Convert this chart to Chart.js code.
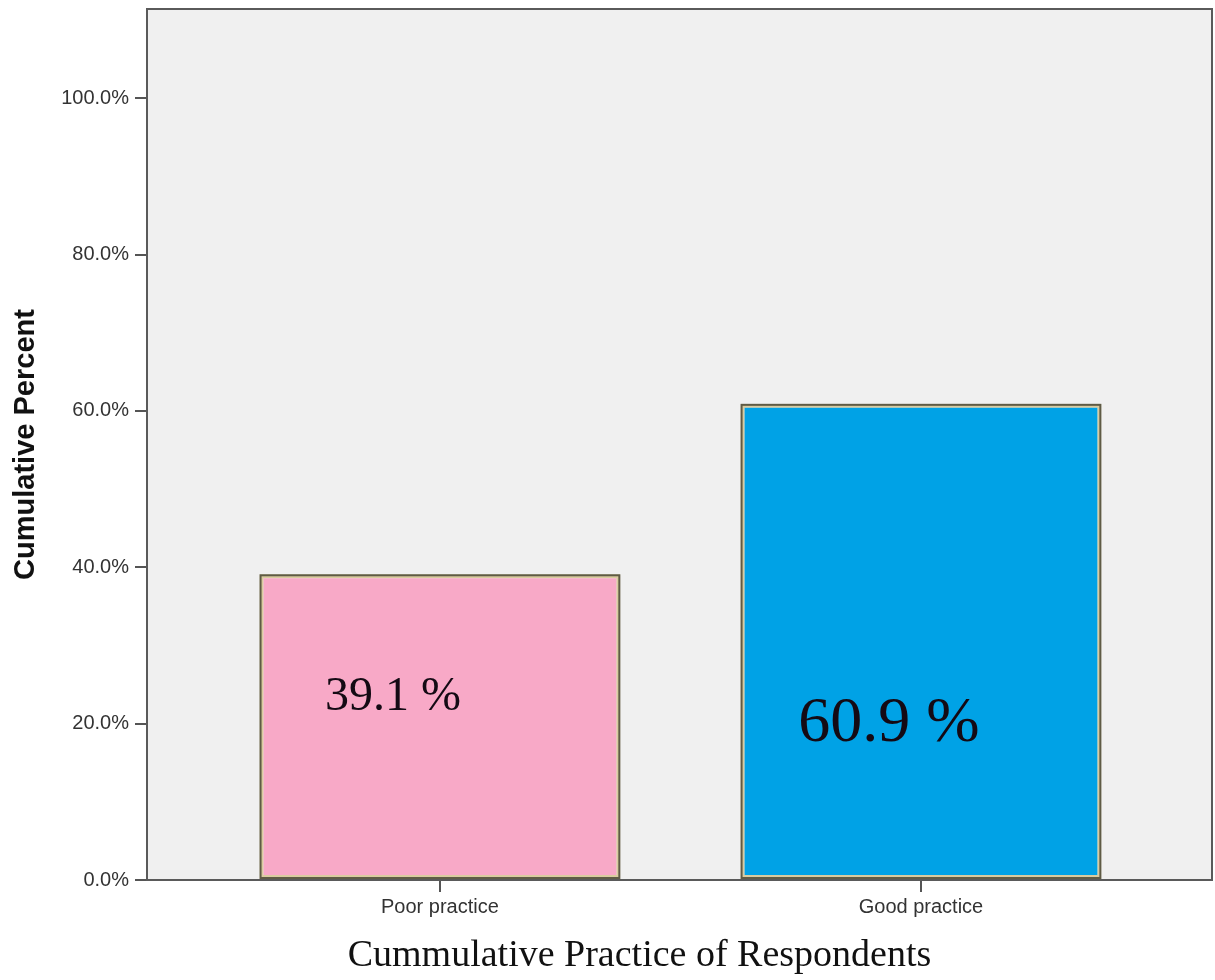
<!DOCTYPE html>
<html lang="en">
<head>
<meta charset="UTF-8">
<title>Cumulative Practice of Respondents</title>
<script src="https://cdn.jsdelivr.net/npm/chart.js"></script>
<style>
    html, body { margin: 0; padding: 0; background: #fff; }
    .grafico { width: 1215px; height: 980px; }
</style>
</head>
<body>
<div class="grafico">
    <canvas id="graficoPratica"></canvas>
</div>
<script>
    // dados
    const categorias = ['Poor practice', 'Good practice'];
    const percentuais = [39.1, 60.9];
    const rotulos = ['39.1 %', '60.9 %'];
    const ticksY = [0, 20, 40, 60, 80, 100];
    const tituloX = 'Cummulative Practice of Respondents';

    const coresBarras = ['#f8a9c7', '#00a2e6'];

    // fundo cinza, moldura da area do grafico e titulo do eixo x
    const molduraPlugin = {
        id: 'moldura',
        beforeDraw(chart) {
            const { ctx, chartArea: a } = chart;
            ctx.save();
            ctx.fillStyle = '#f0f0f0';
            ctx.fillRect(a.left, a.top, a.right - a.left, a.bottom - a.top);
            ctx.restore();
        },
        afterDraw(chart) {
            const { ctx, chartArea: a } = chart;
            ctx.save();
            ctx.strokeStyle = '#5a5a5a';
            ctx.lineWidth = 2;
            ctx.strokeRect(a.left, a.top, a.right - a.left, a.bottom - a.top);

            ctx.fillStyle = '#111';
            ctx.font = '38px "Liberation Serif", "DejaVu Serif", serif';
            ctx.textAlign = 'center';
            ctx.textBaseline = 'middle';
            ctx.fillText(tituloX, (a.left + a.right) / 2 - 40, a.bottom + 76);
            ctx.restore();
        }
    };

    // contorno escuro das barras + textos dentro delas
    const rotuloPlugin = {
        id: 'rotulos',
        afterDatasetsDraw(chart) {
            const { ctx } = chart;
            const barras = chart.getDatasetMeta(0).data;
            const estilos = [
                { dx: -47, acima: 182, size: 48 },
                { dx: -32, acima: 155, size: 64 }
            ];
            ctx.save();
            barras.forEach((bar, i) => {
                const w = bar.width;
                ctx.strokeStyle = '#5f5b45';
                ctx.lineWidth = 2;
                ctx.strokeRect(bar.x - w / 2 + 1, bar.y + 1, w - 2, bar.base - bar.y - 2);

                const e = estilos[i];
                ctx.fillStyle = '#140a14';
                ctx.font = e.size + 'px "Liberation Serif", "DejaVu Serif", serif';
                ctx.textAlign = 'center';
                ctx.textBaseline = 'middle';
                ctx.fillText(rotulos[i], bar.x + e.dx, bar.base - e.acima);
            });
            ctx.restore();
        }
    };

    const ctx = document.getElementById('graficoPratica');

    new Chart(ctx, {
        type: 'bar',
        data: {
            datasets: [{
                label: 'Cumulative Percent',
                data: percentuais.map((v, i) => ({ x: i, y: v })),
                backgroundColor: coresBarras,
                borderColor: '#d9cb9f',
                borderWidth: 4,
                borderSkipped: false,
                categoryPercentage: 1,
                barPercentage: 0.75
            }]
        },
        plugins: [molduraPlugin, rotuloPlugin],
        options: {
            responsive: true,
            maintainAspectRatio: false,
            animation: false,
            layout: {
                padding: { top: 9, right: 3, left: 0, bottom: 0 }
            },
            plugins: {
                legend: { display: false },
                tooltip: { enabled: false }
            },
            scales: {
                x: {
                    type: 'linear',
                    offset: false,
                    min: -0.609,
                    max: 1.605,
                    afterBuildTicks(scale) {
                        scale.ticks = categorias.map((c, i) => ({ value: i }));
                    },
                    afterFit(scale) {
                        scale.height = 100;
                    },
                    border: { display: false },
                    grid: {
                        offset: false,
                        drawOnChartArea: false,
                        drawTicks: true,
                        tickLength: 12,
                        color: '#555',
                        lineWidth: 2
                    },
                    ticks: {
                        color: '#333',
                        font: { family: 'Arial, "Liberation Sans", sans-serif', size: 20 },
                        padding: 3,
                        maxRotation: 0,
                        callback: v => categorias[v]
                    }
                },
                y: {
                    min: 0,
                    max: 111.4,
                    afterBuildTicks(scale) {
                        scale.ticks = ticksY.map(v => ({ value: v }));
                    },
                    afterFit(scale) {
                        scale.width = 147;
                        scale.paddingTop = 0;
                        scale.paddingBottom = 0;
                    },
                    border: { display: false },
                    grid: {
                        drawOnChartArea: false,
                        drawTicks: true,
                        tickLength: 12,
                        color: '#555',
                        lineWidth: 2
                    },
                    ticks: {
                        color: '#333',
                        font: { family: 'Arial, "Liberation Sans", sans-serif', size: 20 },
                        padding: 6,
                        callback: v => v.toFixed(1) + '%'
                    },
                    title: {
                        display: true,
                        text: 'Cumulative Percent',
                        color: '#111',
                        font: { family: 'Arial, "Liberation Sans", sans-serif', size: 29, weight: 'bold' },
                        padding: { top: 9, bottom: 0 }
                    }
                }
            }
        }
    });
</script>
</body>
</html>
